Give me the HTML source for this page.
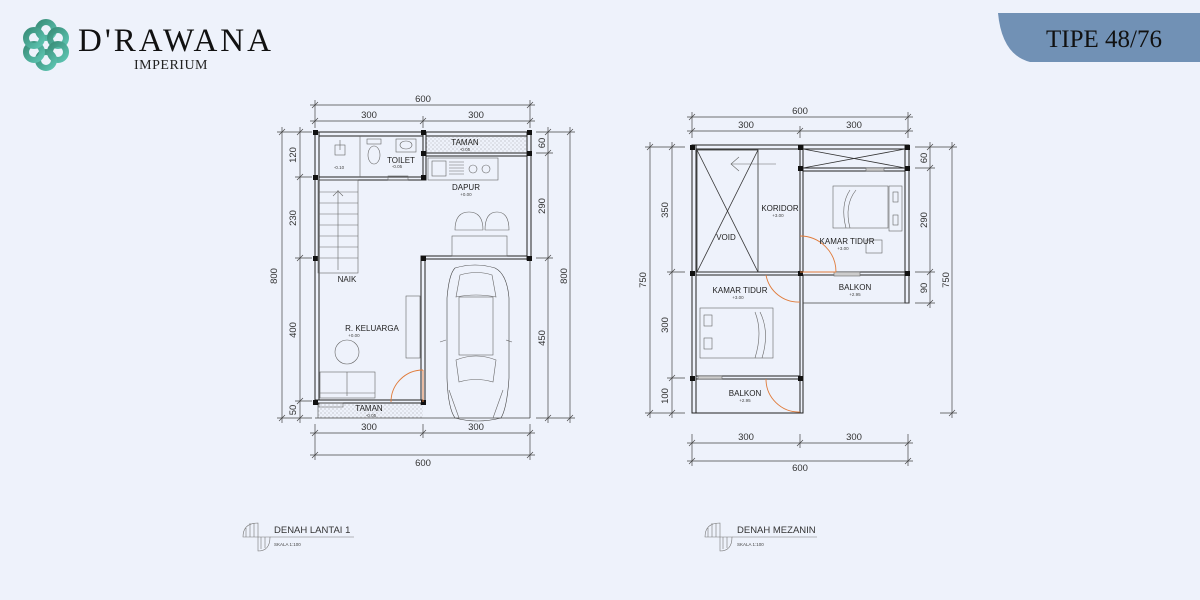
<!DOCTYPE html>
<html><head><meta charset="utf-8"><style>
html,body{margin:0;padding:0;width:1200px;height:600px;overflow:hidden;background:#eef2fb;}
svg{display:block}
text{font-family:"Liberation Sans",sans-serif;fill:#222}
.d{font-size:9.5px;text-anchor:middle;fill:#333}
.l{font-size:8px;text-anchor:middle;fill:#222}
.s{font-size:4.5px;text-anchor:middle;fill:#444}
.dl{stroke:#444;stroke-width:0.7;fill:none}
.w{stroke:#222;stroke-width:1;fill:#eef2fb}
.f{stroke:#666;stroke-width:0.6;fill:none}
.o{stroke:#e07b3a;stroke-width:0.9;fill:none}
</style></head><body>
<svg width="1200" height="600" viewBox="0 0 1200 600" xmlns="http://www.w3.org/2000/svg">
<defs>
<pattern id="dots" width="4" height="4" patternUnits="userSpaceOnUse"><circle cx="1" cy="1" r="0.5" fill="#888"/><circle cx="3" cy="3" r="0.5" fill="#aaa"/></pattern>
<linearGradient id="lg" x1="0" y1="0" x2="1" y2="1"><stop offset="0" stop-color="#3a8f7a"/><stop offset="1" stop-color="#5cc3b0"/></linearGradient>
</defs>
<!-- logo -->
<g fill="none" stroke="url(#lg)" stroke-width="6">
<circle cx="46" cy="30" r="8"/><circle cx="58" cy="38" r="8"/><circle cx="58" cy="52" r="8"/><circle cx="46" cy="60" r="8"/><circle cx="34" cy="52" r="8"/><circle cx="34" cy="38" r="8"/>
</g>
<text x="78" y="51" style="font-family:'Liberation Serif',serif;font-size:33px;fill:#111;letter-spacing:3px">D'RAWANA</text>
<text x="134" y="69" style="font-family:'Liberation Serif',serif;font-size:14px;fill:#222;letter-spacing:0.5px">IMPERIUM</text>
<!-- badge -->
<path d="M998 13 H1200 V62 H1030 Q1002 55 998 13 Z" fill="#7191b5"/>
<text x="1104" y="47" style="font-family:'Liberation Serif',serif;font-size:25px;fill:#111;text-anchor:middle">TIPE 48/76</text>

<!-- ===== LEFT PLAN ===== -->
<g class="dl">
<line x1="310" y1="105" x2="535" y2="105"/><line x1="310" y1="121" x2="535" y2="121"/>
<line x1="315" y1="100" x2="315" y2="128"/><line x1="423" y1="116" x2="423" y2="128"/><line x1="530" y1="100" x2="530" y2="128"/>
<path d="M312 108 l6 -6 M527 108 l6 -6 M312 124 l6 -6 M420 124 l6 -6 M527 124 l6 -6"/>
<line x1="310" y1="433" x2="535" y2="433"/><line x1="310" y1="455" x2="535" y2="455"/>
<line x1="315" y1="424" x2="315" y2="460"/><line x1="423" y1="424" x2="423" y2="438"/><line x1="530" y1="424" x2="530" y2="460"/>
<path d="M312 436 l6 -6 M420 436 l6 -6 M527 436 l6 -6 M312 458 l6 -6 M527 458 l6 -6"/>
<line x1="282" y1="127" x2="282" y2="423"/><line x1="300" y1="127" x2="300" y2="423"/>
<line x1="277" y1="132" x2="312" y2="132"/><line x1="295" y1="177" x2="312" y2="177"/><line x1="295" y1="258" x2="312" y2="258"/><line x1="295" y1="401" x2="312" y2="401"/><line x1="277" y1="418" x2="312" y2="418"/>
<path d="M279 135 l6 -6 M297 135 l6 -6 M297 180 l6 -6 M297 261 l6 -6 M297 404 l6 -6 M279 421 l6 -6 M297 421 l6 -6"/>
<line x1="548" y1="127" x2="548" y2="423"/><line x1="570" y1="127" x2="570" y2="423"/>
<line x1="536" y1="132" x2="575" y2="132"/><line x1="536" y1="153" x2="553" y2="153"/><line x1="536" y1="258" x2="553" y2="258"/><line x1="536" y1="418" x2="575" y2="418"/>
<path d="M545 135 l6 -6 M567 135 l6 -6 M545 156 l6 -6 M545 261 l6 -6 M545 421 l6 -6 M567 421 l6 -6"/>
</g>
<text class="d" x="423" y="102">600</text><text class="d" x="369" y="118">300</text><text class="d" x="476" y="118">300</text>
<text class="d" x="369" y="430">300</text><text class="d" x="476" y="430">300</text><text class="d" x="423" y="466">600</text>
<text class="d" transform="translate(277,276) rotate(-90)">800</text>
<text class="d" transform="translate(296,155) rotate(-90)">120</text>
<text class="d" transform="translate(296,218) rotate(-90)">230</text>
<text class="d" transform="translate(296,330) rotate(-90)">400</text>
<text class="d" transform="translate(296,410) rotate(-90)">50</text>
<text class="d" transform="translate(545,143) rotate(-90)">60</text>
<text class="d" transform="translate(545,206) rotate(-90)">290</text>
<text class="d" transform="translate(545,338) rotate(-90)">450</text>
<text class="d" transform="translate(567,276) rotate(-90)">800</text>
<rect x="425" y="137" width="103" height="16" fill="url(#dots)"/>
<rect x="318" y="404" width="105" height="14" fill="url(#dots)"/>
<g class="w">
<rect x="315" y="132" width="215" height="4"/>
<rect x="315" y="132" width="4" height="272"/>
<rect x="527" y="132" width="4" height="128"/>
<rect x="423" y="132" width="3" height="48"/>
<rect x="319" y="177" width="104" height="3"/>
<rect x="426" y="153" width="101" height="3"/>
<rect x="421" y="256" width="106" height="3"/>
<rect x="421" y="258" width="4" height="146"/>
<rect x="315" y="400" width="108" height="3"/>
</g>
<line x1="315" y1="418" x2="530" y2="418" stroke="#444" stroke-width="0.8"/>
<line x1="318" y1="404" x2="318" y2="418" stroke="#444" stroke-width="0.6"/>
<line x1="530" y1="258" x2="530" y2="418" stroke="#444" stroke-width="0.8"/>
<g fill="#111">
<rect x="313" y="130" width="5" height="5"/><rect x="421" y="130" width="5" height="5"/><rect x="527" y="130" width="5" height="5"/>
<rect x="421" y="151" width="5" height="5"/><rect x="527" y="151" width="5" height="5"/>
<rect x="313" y="175" width="5" height="5"/><rect x="421" y="175" width="5" height="5"/>
<rect x="313" y="256" width="5" height="5"/><rect x="421" y="256" width="5" height="5"/><rect x="527" y="256" width="5" height="5"/>
<rect x="313" y="400" width="5" height="5"/><rect x="421" y="400" width="5" height="5"/>
</g>
<g class="f">
<line x1="360" y1="136" x2="360" y2="177"/>
<rect x="335" y="145" width="10" height="10"/><line x1="340" y1="140" x2="340" y2="150"/>
<rect x="367" y="139" width="14" height="5"/><ellipse cx="374" cy="155" rx="6" ry="9"/>
<rect x="396" y="139" width="20" height="13"/><ellipse cx="406" cy="145" rx="6" ry="4"/>
<rect x="388" y="176" width="20" height="4"/>
<rect x="428" y="158" width="70" height="22"/><rect x="432" y="161" width="14" height="15"/><path d="M449 162 h15 M449 165 h15 M449 168 h15 M449 171 h15 M449 174 h15"/>
<circle cx="473" cy="169" r="4"/><circle cx="486" cy="169" r="4"/>
<rect x="318" y="180" width="40" height="93"/>
<path d="M318 192 h40 M318 203 h40 M318 214 h40 M318 225 h40 M318 236 h40 M318 247 h40 M318 258 h40 M338 190 v80"/>
<path d="M333 196 l5 -5 l5 5"/>
<rect x="452" y="236" width="55" height="20"/>
<path d="M455 230 q0 -18 14 -18 q14 0 14 18 z"/><path d="M485 230 q0 -18 12 -18 q12 0 12 18 z"/>
<circle cx="347" cy="352" r="12"/>
<rect x="320" y="372" width="55" height="26"/><line x1="347" y1="372" x2="347" y2="396"/><line x1="320" y1="393" x2="375" y2="393"/>
<rect x="406" y="296" width="14" height="62"/>
<rect x="319" y="403" width="24" height="4"/>
<path d="M455 268 q20 -6 40 0 q12 6 14 30 l0 80 q-2 30 -8 40 q-24 6 -46 0 q-7 -10 -8 -40 l0 -80 q2 -24 8 -30 z" stroke="#444"/>
<path d="M460 275 q17 -5 32 0 l4 22 q-20 -4 -40 0 z"/>
<rect x="459" y="297" width="34" height="58"/>
<path d="M456 360 q20 -8 40 0 l-3 22 q-17 -5 -34 0 z"/>
<path d="M449 390 l10 28 M503 390 l-10 28 M446 340 l-6 2 M506 340 l6 2"/>
</g>
<path class="o" d="M423 370 A32 32 0 0 0 391 402"/><line class="o" x1="423" y1="370" x2="423" y2="402"/>
<text class="l" x="465" y="145">TAMAN</text><text class="s" x="465" y="151">-0.05</text>
<text class="l" x="401" y="163">TOILET</text><text class="s" x="397" y="168">-0.05</text>
<text class="s" x="339" y="169">-0.10</text>
<text class="l" x="466" y="190">DAPUR</text><text class="s" x="466" y="196">+0.00</text>
<text class="l" x="347" y="282">NAIK</text>
<text class="l" x="372" y="331">R. KELUARGA</text><text class="s" x="354" y="337">+0.00</text>
<text class="l" x="369" y="411">TAMAN</text><text class="s" x="371" y="417">-0.05</text>

<!-- ===== RIGHT PLAN ===== -->
<g class="dl">
<line x1="687" y1="117" x2="913" y2="117"/><line x1="687" y1="131" x2="913" y2="131"/>
<line x1="692" y1="112" x2="692" y2="138"/><line x1="800" y1="126" x2="800" y2="138"/><line x1="908" y1="112" x2="908" y2="138"/>
<path d="M689 120 l6 -6 M905 120 l6 -6 M689 134 l6 -6 M797 134 l6 -6 M905 134 l6 -6"/>
<line x1="687" y1="443" x2="913" y2="443"/><line x1="687" y1="461" x2="913" y2="461"/>
<line x1="692" y1="434" x2="692" y2="466"/><line x1="800" y1="434" x2="800" y2="448"/><line x1="908" y1="434" x2="908" y2="466"/>
<path d="M689 446 l6 -6 M797 446 l6 -6 M905 446 l6 -6 M689 464 l6 -6 M905 464 l6 -6"/>
<line x1="650" y1="142" x2="650" y2="418"/><line x1="672" y1="142" x2="672" y2="418"/>
<line x1="645" y1="147" x2="685" y2="147"/><line x1="667" y1="272" x2="685" y2="272"/><line x1="667" y1="378" x2="685" y2="378"/><line x1="645" y1="413" x2="685" y2="413"/>
<path d="M647 150 l6 -6 M669 150 l6 -6 M669 275 l6 -6 M669 381 l6 -6 M647 416 l6 -6 M669 416 l6 -6"/>
<line x1="930" y1="142" x2="930" y2="308"/><line x1="952" y1="142" x2="952" y2="418"/>
<line x1="915" y1="147" x2="957" y2="147"/><line x1="915" y1="168" x2="935" y2="168"/><line x1="915" y1="272" x2="935" y2="272"/><line x1="915" y1="303" x2="935" y2="303"/><line x1="940" y1="413" x2="957" y2="413"/>
<path d="M927 150 l6 -6 M949 150 l6 -6 M927 171 l6 -6 M927 275 l6 -6 M927 306 l6 -6 M949 416 l6 -6"/>
</g>
<text class="d" x="800" y="114">600</text><text class="d" x="746" y="128">300</text><text class="d" x="854" y="128">300</text>
<text class="d" x="746" y="440">300</text><text class="d" x="854" y="440">300</text><text class="d" x="800" y="471">600</text>
<text class="d" transform="translate(646,280) rotate(-90)">750</text>
<text class="d" transform="translate(668,210) rotate(-90)">350</text>
<text class="d" transform="translate(668,325) rotate(-90)">300</text>
<text class="d" transform="translate(668,396) rotate(-90)">100</text>
<text class="d" transform="translate(927,158) rotate(-90)">60</text>
<text class="d" transform="translate(927,220) rotate(-90)">290</text>
<text class="d" transform="translate(927,288) rotate(-90)">90</text>
<text class="d" transform="translate(949,280) rotate(-90)">750</text>
<g class="w">
<rect x="692" y="145" width="217" height="4"/>
<rect x="692" y="145" width="4" height="268"/>
<rect x="905" y="145" width="4" height="158"/>
<rect x="800" y="145" width="3" height="268"/>
<rect x="803" y="168" width="102" height="3"/>
<rect x="696" y="272" width="209" height="3"/>
<rect x="696" y="376" width="104" height="3"/>
</g>
<line x1="692" y1="413" x2="803" y2="413" stroke="#222" stroke-width="1"/>
<line x1="803" y1="303" x2="909" y2="303" stroke="#444" stroke-width="0.7"/>
<g fill="#111">
<rect x="690" y="145" width="5" height="5"/><rect x="798" y="145" width="5" height="5"/><rect x="905" y="145" width="5" height="5"/>
<rect x="798" y="166" width="5" height="5"/><rect x="905" y="166" width="5" height="5"/>
<rect x="690" y="271" width="5" height="5"/><rect x="798" y="271" width="5" height="5"/><rect x="905" y="271" width="5" height="5"/>
<rect x="690" y="376" width="5" height="5"/><rect x="798" y="376" width="5" height="5"/>
</g>
<g class="f" stroke="#333">
<rect x="697" y="150" width="61" height="122" stroke="#333" stroke-width="0.8"/>
<path d="M697 150 L758 272 M758 150 L697 272" stroke="#333" stroke-width="0.8"/>
<path d="M803 149 L905 168 M905 149 L803 168" stroke="#333" stroke-width="0.8"/>
<path d="M731 164 h45 M739 157 l-8 7 l8 7"/>
<rect x="866" y="168" width="18" height="3" fill="#ccc"/>
<rect x="833" y="186" width="55" height="42"/><path d="M850 190 q-10 15 -4 38 M856 190 q-12 15 -6 38"/>
<rect x="889" y="186" width="13" height="45"/><rect x="893" y="192" width="5" height="10"/><rect x="893" y="215" width="5" height="10"/>
<rect x="866" y="240" width="16" height="13"/>
<rect x="700" y="308" width="73" height="50"/><path d="M755 312 q8 20 0 46 M760 312 q10 20 2 46"/>
<rect x="704" y="315" width="8" height="11"/><rect x="704" y="338" width="8" height="11"/>
<rect x="698" y="376" width="24" height="3" fill="#ccc"/>
<rect x="834" y="272" width="26" height="4" fill="#ccc"/>
</g>
<path class="o" d="M800 236 A36 36 0 0 1 836 272"/><line class="o" x1="800" y1="272" x2="836" y2="272"/>
<path class="o" d="M766 275 A33 33 0 0 0 800 302"/>
<path class="o" d="M766 379 A33 33 0 0 0 800 412"/>
<text class="l" x="780" y="211">KORIDOR</text><text class="s" x="778" y="217">+3.00</text>
<text class="l" x="726" y="240">VOID</text>
<text class="l" x="847" y="244">KAMAR TIDUR</text><text class="s" x="843" y="250">+3.00</text>
<text class="l" x="740" y="293">KAMAR TIDUR</text><text class="s" x="738" y="299">+3.00</text>
<text class="l" x="855" y="290">BALKON</text><text class="s" x="855" y="296">+2.95</text>
<text class="l" x="745" y="396">BALKON</text><text class="s" x="745" y="402">+2.95</text>

<g fill="none" stroke="#777" stroke-width="0.6">
<path d="M243 537 q0 -14 15 -14 v14 z M250 523 v14 M254 523 v14 M246 528 v9"/>
<path d="M258 537 h12 q0 14 -12 14 z M261 537 v12 M265 537 v11"/>
<line x1="270" y1="537" x2="354" y2="537"/>
<path d="M705 537 q0 -14 15 -14 v14 z M712 523 v14 M716 523 v14 M708 528 v9"/>
<path d="M720 537 h12 q0 14 -12 14 z M723 537 v12 M727 537 v11"/>
<line x1="732" y1="537" x2="817" y2="537"/>
</g>
<text x="274" y="533" style="font-size:9.5px;fill:#333">DENAH LANTAI 1</text>
<text x="274" y="546" style="font-size:4.5px;fill:#444">SKALA 1:100</text>
<text x="737" y="533" style="font-size:9.5px;fill:#333">DENAH MEZANIN</text>
<text x="737" y="546" style="font-size:4.5px;fill:#444">SKALA 1:100</text>
</svg>
</body></html>
